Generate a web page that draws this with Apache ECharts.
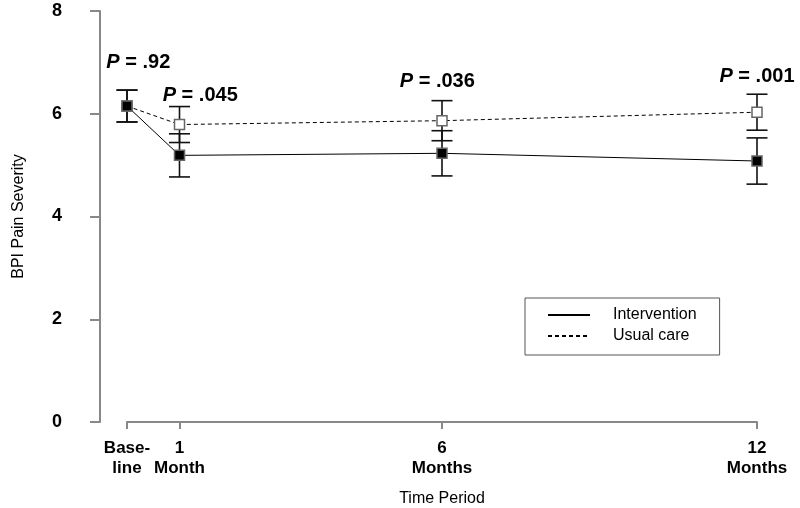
<!DOCTYPE html>
<html>
<head>
<meta charset="utf-8">
<script src="https://cdn.jsdelivr.net/npm/echarts@6/dist/echarts.min.js"></script>
<style>
html,body{margin:0;padding:0;background:#fff;}
#chart{width:800px;height:508px;}
</style>
</head>
<body>
<div id="chart"></div>
<script>
// ---- data ----
const months = [0, 1, 6, 12];
const xTickLabels = ['Base-\nline', '1\nMonth', '6\nMonths', '12\nMonths'];
const intervention = [6.15, 5.19, 5.23, 5.08];
const interventionErr = [0.31, 0.42, 0.44, 0.45];
const usualCare = [6.15, 5.79, 5.865, 6.03];
const usualCareErr = [0.31, 0.35, 0.39, 0.35];
const pValues = ['.92', '.045', '.036', '.001'];
const pLabelX = [0.215, 1.395, 5.91, 12.0];
const pLabelY = [7.0, 6.36, 6.63, 6.73];
const seriesNames = ['Intervention', 'Usual care'];

const FONT = '"Liberation Sans", Arial, Helvetica, sans-serif';

function pairs(xs, ys) { return xs.map((x, i) => [x, ys[i]]); }
function errData(xs, ys, es) { return xs.map((x, i) => [x, ys[i] - es[i], ys[i] + es[i]]); }

function errRender(params, api) {
  const x = api.value(0);
  const lo = api.coord([x, api.value(1)]);
  const hi = api.coord([x, api.value(2)]);
  const half = 10.5;
  const style = { stroke: '#111', lineWidth: 1.6 };
  return {
    type: 'group',
    children: [
      { type: 'line', shape: { x1: lo[0], y1: lo[1], x2: hi[0], y2: hi[1] }, style: style },
      { type: 'line', shape: { x1: lo[0] - half, y1: lo[1], x2: lo[0] + half, y2: lo[1] }, style: style },
      { type: 'line', shape: { x1: hi[0] - half, y1: hi[1], x2: hi[0] + half, y2: hi[1] }, style: style }
    ]
  };
}

function pRender(params, api) {
  const c = api.coord([api.value(0), api.value(1)]);
  return {
    type: 'text',
    x: c[0],
    y: c[1],
    style: {
      text: '{i|P}{b| = ' + pValues[params.dataIndex] + '}',
      align: 'center',
      verticalAlign: 'middle',
      fill: '#000',
      rich: {
        i: { fontFamily: FONT, fontSize: 20, fontWeight: 'bold', fontStyle: 'italic', fill: '#000' },
        b: { fontFamily: FONT, fontSize: 20, fontWeight: 'bold', fill: '#000' }
      }
    }
  };
}

const chart = echarts.init(document.getElementById('chart'), null, { renderer: 'canvas' });
chart.setOption({
  backgroundColor: '#fff',
  animation: false,
  textStyle: { fontFamily: FONT },
  grid: { left: 127, right: 43, top: 11, bottom: 86, outerBoundsMode: 'none', containLabel: false },
  legend: {
    data: seriesNames,
    orient: 'vertical',
    left: 525,
    top: 298,
    padding: [9, 23, 11, 22],
    borderColor: '#555',
    borderWidth: 1,
    itemWidth: 42,
    itemHeight: 14,
    itemGap: 5,
    itemStyle: { opacity: 0 },
    textStyle: { fontFamily: FONT, fontSize: 16, color: '#000', padding: [0, 0, 0, 18] },
    selectedMode: false
  },
  xAxis: {
    type: 'value',
    min: 0,
    max: 12,
    name: 'Time Period',
    nameLocation: 'middle',
    nameGap: 69,
    nameTextStyle: { fontFamily: FONT, fontSize: 16, color: '#000' },
    axisLine: { show: true, onZero: false, lineStyle: { color: '#888', width: 2 } },
    axisTick: { show: true, length: 7, lineStyle: { color: '#888', width: 2 }, customValues: months },
    axisLabel: {
      customValues: months,
      margin: 16,
      fontFamily: FONT,
      fontSize: 17,
      fontWeight: 'bold',
      color: '#000',
      lineHeight: 20,
      formatter: function (v) { const i = months.indexOf(v); return i >= 0 ? xTickLabels[i] : ''; }
    },
    splitLine: { show: false }
  },
  yAxis: {
    type: 'value',
    min: 0,
    max: 8,
    interval: 2,
    offset: 27,
    name: 'BPI Pain Severity',
    nameLocation: 'middle',
    nameGap: 73,
    nameTextStyle: { fontFamily: FONT, fontSize: 16, color: '#000' },
    axisLine: { show: true, onZero: false, lineStyle: { color: '#888', width: 2 } },
    axisTick: { show: true, length: 10, lineStyle: { color: '#888', width: 2 } },
    axisLabel: { margin: 38, fontFamily: FONT, fontSize: 18, fontWeight: 'bold', color: '#000' },
    splitLine: { show: false }
  },
  series: [
    {
      type: 'custom',
      name: 'errUC',
      renderItem: errRender,
      data: errData(months, usualCare, usualCareErr),
      z: 1,
      silent: true
    },
    {
      type: 'custom',
      name: 'errInt',
      renderItem: errRender,
      data: errData(months, intervention, interventionErr),
      z: 1,
      silent: true
    },
    {
      type: 'line',
      name: seriesNames[1],
      data: pairs(months, usualCare),
      symbol: 'rect',
      symbolSize: 10,
      lineStyle: { color: '#000', width: 1, type: [4, 3] },
      itemStyle: { color: '#fff', borderColor: '#666', borderWidth: 1.5 },
      z: 3
    },
    {
      type: 'line',
      name: seriesNames[0],
      data: pairs(months, intervention),
      symbol: 'rect',
      symbolSize: 10,
      lineStyle: { color: '#000', width: 1, type: 'solid' },
      itemStyle: { color: '#000', borderColor: '#666', borderWidth: 1.5 },
      z: 4
    },
    {
      type: 'custom',
      name: 'pvals',
      renderItem: pRender,
      data: pairs(pLabelX, pLabelY),
      clip: false,
      silent: true,
      z: 5
    }
  ]
});
</script>
</body>
</html>
